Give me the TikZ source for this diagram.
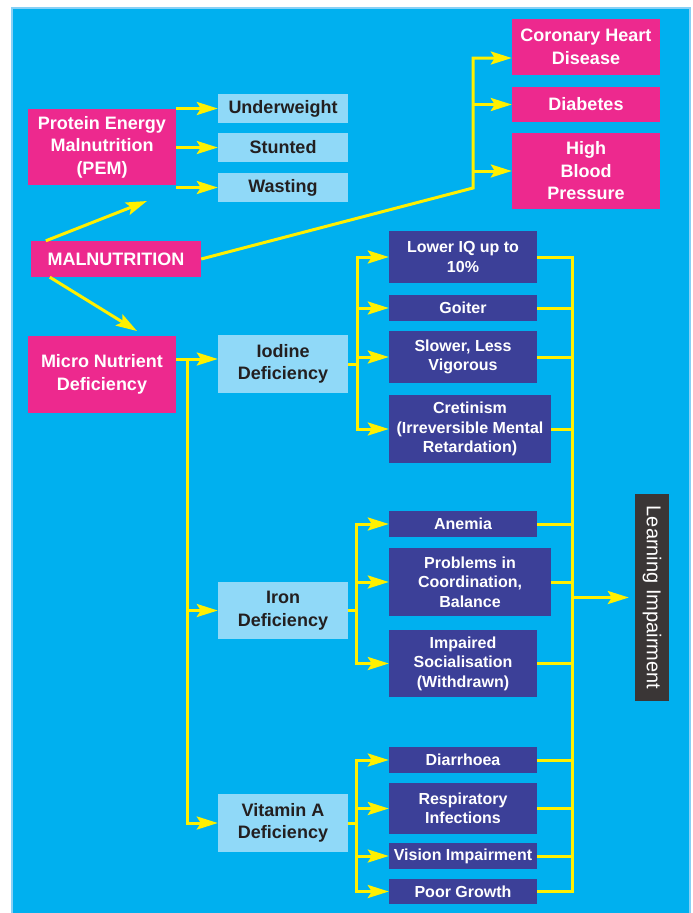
\documentclass[tikz,border=0pt]{standalone}
\usepackage{fontspec}
\setmainfont{Liberation Sans}
\usetikzlibrary{arrows.meta}
\definecolor{skyback}{RGB}{0,176,239}
\definecolor{skyedge}{RGB}{135,208,245}
\definecolor{pinkbox}{RGB}{237,41,142}
\definecolor{palebox}{RGB}{144,217,248}
\definecolor{navybox}{RGB}{60,64,152}
\definecolor{arrowyellow}{RGB}{255,240,0}
\definecolor{greybox}{RGB}{58,54,54}
\definecolor{inktext}{RGB}{35,31,32}

\begin{document}
\begin{tikzpicture}[x=1pt,y=-1pt,>={Stealth[length=21pt,width=13pt,inset=4pt]},
		link/.style={draw=arrowyellow,line width=3pt},
		pinknode/.style={fill=pinkbox,text=white,font=\fontsize{18}{22.5}\selectfont\bfseries,align=center,inner sep=0pt},
		palenode/.style={fill=palebox,text=inktext,font=\fontsize{18}{22.5}\selectfont\bfseries,align=center,inner sep=0pt,minimum width=130pt},
		navynode/.style={fill=navybox,text=white,font=\fontsize{16}{19.5}\selectfont\bfseries,align=center,inner sep=0pt,minimum width=148pt}]
			\useasboundingbox (0,0) rectangle (693,913);
			\fill[white] (0,0) rectangle (693,913);
			\draw[line width=2pt,draw=skyedge,fill=skyback] (12,8) rectangle (690,916);
			\node[pinknode,minimum width=148pt,minimum height=76pt] (PEM) at (102,147) {Protein Energy\\Malnutrition\\(PEM)};
			\node[palenode,minimum height=29pt] (Underweight) at (283,108.5) {Underweight};
			\node[palenode,minimum height=29pt] (Stunted) at (283,147.5) {Stunted};
			\node[palenode,minimum height=29pt] (Wasting) at (283,187.5) {Wasting};
			\node[pinknode,minimum width=170pt,minimum height=36pt] (MAL) at (116,259) {MALNUTRITION};
			\node[pinknode,minimum width=148pt,minimum height=77pt] (Micro) at (102,374.5) {Micro Nutrient\\Deficiency};
			\node[pinknode,minimum width=148pt,minimum height=56pt] (CHD) at (586,47) {Coronary Heart\\Disease};
			\node[pinknode,minimum width=148pt,minimum height=35pt] (Diabetes) at (586,104.5) {Diabetes};
			\node[pinknode,minimum width=148pt,minimum height=76pt] (HBP) at (586,171) {High\\Blood\\Pressure};
			\node[palenode,minimum height=58pt] (Iodine) at (283,364) {Iodine\\Deficiency};
			\node[palenode,minimum height=57pt] (Iron) at (283,610.5) {Iron\\Deficiency};
			\node[palenode,minimum height=58pt] (VitA) at (283,823) {Vitamin A\\Deficiency};
			\node[navynode,minimum height=52pt] (LowerIQ) at (463,257) {Lower IQ up to\\10\%};
			\node[navynode,minimum height=26pt] (Goiter) at (463,308) {Goiter};
			\node[navynode,minimum height=52pt] (Slower) at (463,357) {Slower, Less\\Vigorous};
			\node[navynode,minimum width=162pt,minimum height=68pt] (Cretinism) at (470,429) {Cretinism\\(Irreversible Mental\\Retardation)};
			\node[navynode,minimum height=26pt] (Anemia) at (463,524) {Anemia};
			\node[navynode,minimum width=162pt,minimum height=68pt] (Problems) at (470,582) {Problems in\\Coordination,\\Balance};
			\node[navynode,minimum height=67pt] (Impaired) at (463,663.5) {Impaired\\Socialisation\\(Withdrawn)};
			\node[navynode,minimum height=26pt] (Diarrhoea) at (463,760) {Diarrhoea};
			\node[navynode,minimum height=51pt] (Respiratory) at (463,808.5) {Respiratory\\Infections};
			\node[navynode,minimum height=26pt] (Vision) at (463,856) {Vision Impairment};
			\node[navynode,minimum height=25pt] (Poor) at (463,891.5) {Poor Growth};
			\node[fill=greybox,text=white,minimum width=34pt,minimum height=207pt,inner sep=0pt,font=\fontsize{20}{20}\selectfont] (Learning) at (652,597.5) {\rotatebox{-90}{Learning Impairment}};
			\coordinate (pemtip) at (147,201);
			\coordinate (microtip) at (137,331);
			\coordinate (hub) at (473,188);
			\coordinate (hubtop) at (473,58);
			\coordinate (trunk) at (187,359);
			\coordinate (iodsplit) at (357,364);
			\coordinate (ironsplit) at (356,610.5);
			\coordinate (vitsplit) at (356,823);
			\coordinate (bus) at (572,600);
			\foreach \n in {Underweight,Stunted,Wasting}
				\draw[link,->] (PEM.east |- \n) -- (\n.west);
			\draw[link,->] ([xshift=15pt]MAL.north west) -- (pemtip);
			\draw[link,->] ([xshift=19pt]MAL.south west) -- (microtip);
			\draw[link,->] (MAL.east) -- (hub) -- (hubtop) -- (CHD.west |- hubtop);
			\draw[link,->] (hub |- Diabetes) -- (Diabetes.west);
			\draw[link,->] (hub |- HBP) -- (HBP.west);
			\draw[link,->] (Micro.east |- trunk) -- (Iodine.west |- trunk);
			\draw[link,->] (trunk) |- (VitA.west);
			\draw[link,->] (trunk |- Iron) -- (Iron.west);
			\draw[link] (Iodine.east) -- (iodsplit);
			\draw[link,line cap=rect] (iodsplit |- LowerIQ) -- (iodsplit |- Cretinism);
			\foreach \n in {LowerIQ,Goiter,Slower,Cretinism}
				\draw[link,->] (iodsplit |- \n) -- (\n.west);
			\draw[link] (Iron.east) -- (ironsplit);
			\draw[link,line cap=rect] (ironsplit |- Anemia) -- (ironsplit |- Impaired);
			\foreach \n in {Anemia,Problems,Impaired}
				\draw[link,->] (ironsplit |- \n) -- (\n.west);
			\draw[link] (VitA.east) -- (vitsplit);
			\draw[link,line cap=rect] (vitsplit |- Diarrhoea) -- (vitsplit |- Poor);
			\foreach \n in {Diarrhoea,Respiratory,Vision,Poor}
				\draw[link,->] (vitsplit |- \n) -- (\n.west);
			\foreach \n in {LowerIQ,Goiter,Slower,Cretinism,Anemia,Problems,Impaired,Diarrhoea,Respiratory,Vision,Poor}
				\draw[link] (\n.east) -- (bus |- \n);
			\draw[link,line cap=rect] (bus |- LowerIQ) -- (bus |- Poor);
			\draw[link,->] (bus |- Learning.west) -- ([xshift=-6pt]Learning.west);
		\end{tikzpicture}
\end{document}
